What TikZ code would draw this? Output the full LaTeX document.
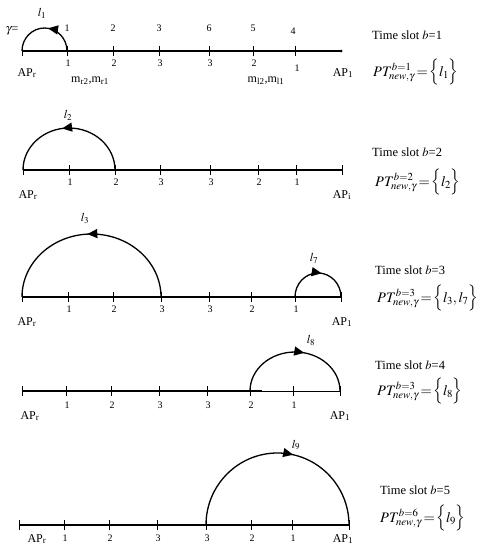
\documentclass[tikz,border=0pt]{standalone}
\usepackage{mathptmx}
\usepackage[no-math]{fontspec}
\setmainfont{Liberation Serif}
\usetikzlibrary{arrows.meta,decorations.markings}
\begin{document}
\begin{tikzpicture}[x=1pt,y=1pt,
 axisline/.style={line width=1.5pt},
 thinaxis/.style={line width=0.6pt},
 tickline/.style={line width=1pt},
 arcline/.style={line width=1.3pt},
 num/.style={font=\fontsize{10}{11}\selectfont, inner sep=0pt},
 aplab/.style={font=\fontsize{12}{14}\selectfont, inner sep=0pt},
 mlab/.style={font=\fontsize{12}{14}\selectfont, inner sep=0pt},
 linklab/.style={font=\fontsize{12}{14}\selectfont, inner sep=0pt},
 slot/.style={font=\fontsize{12.5}{14}\selectfont, inner sep=0pt, anchor=base west},
 formula/.style={font=\fontsize{14.5}{16}\selectfont, inner sep=0pt, anchor=base west},
 midarrow/.style={postaction={decorate}, decoration={markings, mark=at position #1 with {\arrow{Triangle[length=10pt,width=9pt]}}}},
]
\useasboundingbox (0,0) rectangle (482,-552);
\newcommand{\ptset}[2]{$PT^{b=#1}_{\mathit{new},\gamma}\!=\!\Big\{#2\Big\}$}

% ---------- Row 1 ----------
\foreach \x [count=\i from 0] in {22,67,113,159,209,253,295,341} {\coordinate (a\i) at (\x,-51);}
\draw[axisline] (a0) -- (a7);
\foreach \i in {0,...,6} {\draw[tickline] ([yshift=5pt]a\i) -- ([yshift=-5pt]a\i);}
\fill (a7) circle[radius=1.5pt];
\foreach \i/\t in {1/1,2/2,3/3,4/3,5/2} {\node[num] (al\i) at ([xshift=1pt,yshift=-12pt]a\i) {\t};}
\node[num] (al6) at ([xshift=2pt,yshift=-17pt]a6) {1};
\foreach \i/\t in {1/1,2/2,3/3,4/6,5/5} {\node[num] (au\i) at ([yshift=23pt]a\i) {\t};}
\node[num] (au6) at ([xshift=-2pt,yshift=20pt]a6) {4};
\node[aplab] (apr1) at (27,-73) {AP\textsubscript{r}};
\node[aplab] (api1) at (343,-73) {AP\textsubscript{1}};
\node[mlab] (mr) at (90,-81) {m\textsubscript{r2},m\textsubscript{r1}};
\node[mlab] (ml) at (266,-81) {m\textsubscript{l2},m\textsubscript{l1}};
\node[linklab] (gam) at (12,-31) {$\gamma$=};
\draw[arcline, midarrow=0.45] (a1) arc[start angle=0, end angle=180, x radius=22.5pt, y radius=23pt];
\node[linklab] (l1) at (42,-13) {$l_1$};
\node[slot] (ts1) at (372,-39) {Time slot $b$=1};
\node[formula] (pt1) at (373,-76) {\ptset{1}{l_1}};

% ---------- Row 2 ----------
\foreach \x [count=\i from 0] in {23,69,115,160,210,258,296,342} {\coordinate (b\i) at (\x,-170);}
\draw[axisline] (b0) -- (b7);
\foreach \i in {0,...,7} {\draw[tickline] ([yshift=5pt]b\i) -- ([yshift=-5pt]b\i);}
\foreach \i/\t in {1/1,2/2,3/3,4/3,5/2,6/1} {\node[num] (bl\i) at ([xshift=1pt,yshift=-12pt]b\i) {\t};}
\node[aplab] (apr2) at (28,-195) {AP\textsubscript{r}};
\node[aplab] (api2) at (342,-195) {AP\textsubscript{i}};
\draw[arcline, midarrow=0.55] (b2) arc[start angle=0, end angle=180, x radius=46pt, y radius=42pt];
\node[linklab] (l2) at (68,-115) {$l_2$};
\node[slot] (ts2) at (372,-156) {Time slot $b$=2};
\node[formula] (pt2) at (375,-186) {\ptset{2}{l_2}};

% ---------- Row 3 ----------
\foreach \x [count=\i from 0] in {22,68,113,161,209,251,295,341} {\coordinate (c\i) at (\x,-297);}
\draw[axisline] (c0) -- (c7);
\foreach \i in {0,...,7} {\draw[tickline] ([yshift=5pt]c\i) -- ([yshift=-5pt]c\i);}
\foreach \i/\t in {1/1,2/2,3/3,4/3,5/2,6/1} {\node[num] (cl\i) at ([xshift=1pt,yshift=-12pt]c\i) {\t};}
\node[aplab] (apr3) at (27,-322) {AP\textsubscript{r}};
\node[aplab] (api3) at (342,-322) {AP\textsubscript{1}};
\draw[arcline, midarrow=0.52] (c3) arc[start angle=0, end angle=180, x radius=69.5pt, y radius=63pt];
\draw[arcline, midarrow=0.55] (c6) arc[start angle=180, end angle=0, x radius=23pt, y radius=24pt];
\node[linklab] (l3) at (85,-218) {$l_3$};
\node[linklab] (l7) at (314,-258) {$l_7$};
\node[slot] (ts3) at (375,-274) {Time slot $b$=3};
\node[formula] (pt3) at (377,-302) {\ptset{3}{l_3,l_7}};

% ---------- Row 4 ----------
\foreach \x [count=\i from 0] in {22,66,111,159,207,250,293,340} {\coordinate (d\i) at (\x,-391);}
\coordinate (dmid) at (262,-391);
\draw[axisline] (d0) -- (dmid);
\draw[thinaxis] (dmid) -- (d7);
\foreach \i in {0,...,7} {\draw[tickline] ([yshift=5pt]d\i) -- ([yshift=-5pt]d\i);}
\foreach \i/\t in {1/1,2/2,3/3,4/3,5/2,6/1} {\node[num] (dl\i) at ([xshift=1pt,yshift=-14pt]d\i) {\t};}
\node[aplab] (apr4) at (30,-416) {AP\textsubscript{r}};
\node[aplab] (api4) at (340,-416) {AP\textsubscript{1}};
\draw[arcline, midarrow=0.57] (d5) arc[start angle=180, end angle=0, x radius=45pt, y radius=39pt];
\node[linklab] (l8) at (311,-340) {$l_8$};
\node[slot] (ts4) at (375,-369) {Time slot $b$=4};
\node[formula] (pt4) at (377,-395) {\ptset{3}{l_8}};

% ---------- Row 5 ----------
\foreach \x [count=\i from 0] in {19,64,109,157,206,251,292,349} {\coordinate (e\i) at (\x,-525);}
\draw[axisline] (e0) -- (e7);
\foreach \i in {0,...,7} {\draw[tickline] ([yshift=5pt]e\i) -- ([yshift=-5pt]e\i);}
\foreach \i/\t in {1/1,2/2,3/3,4/3,5/2,6/1} {\node[num] (el\i) at ([xshift=1pt,yshift=-13pt]e\i) {\t};}
\node[aplab] (apr5) at (37,-539) {AP\textsubscript{r}};
\node[aplab] (api5) at (343,-539) {AP\textsubscript{1}};
\draw[arcline, midarrow=0.57] (e4) arc[start angle=180, end angle=0, x radius=71.5pt, y radius=72pt];
\node[linklab] (l9) at (296,-445) {$l_9$};
\node[slot] (ts5) at (380,-494) {Time slot $b$=5};
\node[formula] (pt5) at (380,-522) {\ptset{6}{l_9}};
\end{tikzpicture}
\end{document}
